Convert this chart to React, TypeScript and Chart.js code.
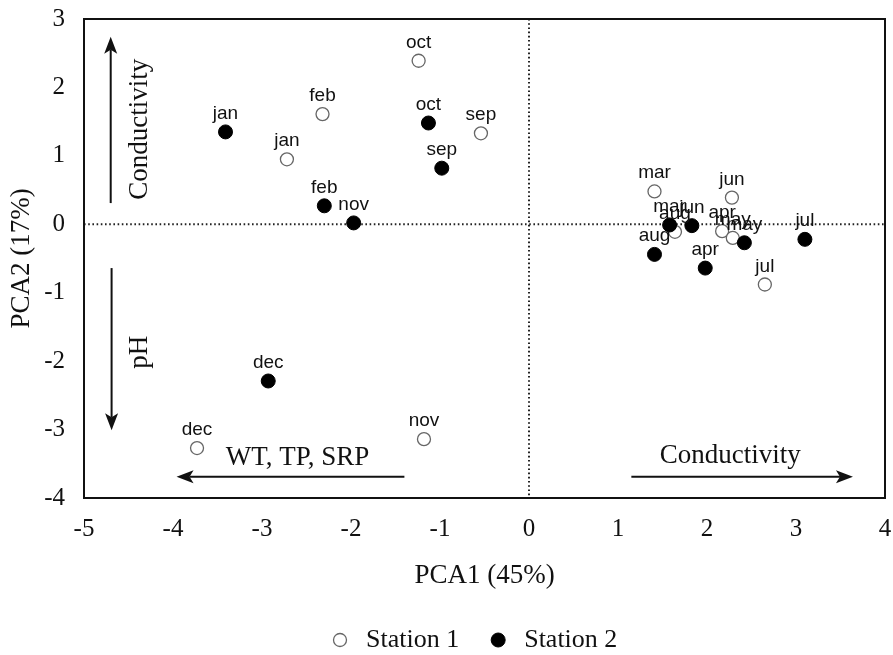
import React, { useEffect, useRef } from 'react';
import { Chart, registerables } from 'chart.js';

Chart.register(...registerables);

// ---- data ----
const MONTHS = ['jan', 'feb', 'mar', 'apr', 'may', 'jun', 'jul', 'aug', 'sep', 'oct', 'nov', 'dec'];
const STATION1_PCA1 = [-2.72, -2.32, 1.41, 2.17, 2.29, 2.28, 2.65, 1.64, -0.54, -1.24, -1.18, -3.73];
const STATION1_PCA2 = [0.95, 1.61, 0.48, -0.1, -0.2, 0.39, -0.88, -0.11, 1.33, 2.39, -3.14, -3.27];
const STATION2_PCA1 = [-3.41, -2.3, 1.58, 1.98, 2.42, 1.83, 3.1, 1.41, -0.98, -1.13, -1.97, -2.93];
const STATION2_PCA2 = [1.35, 0.27, -0.01, -0.64, -0.27, -0.02, -0.22, -0.44, 0.82, 1.48, 0.02, -2.29];
const SERIES_NAMES = ['Station 1', 'Station 2'];
const X_TITLE = 'PCA1 (45%)';
const Y_TITLE = 'PCA2 (17%)';
const X_MIN = -5;
const X_MAX = 4;
const Y_MIN = -4;
const Y_MAX = 3;

// annotation arrows (data coordinates)
const ARROWS = [
  { from: [-4.7, 0.31], to: [-4.7, 2.74] },
  { from: [-4.69, -0.64], to: [-4.69, -3.01] },
  { from: [-1.4, -3.69], to: [-3.96, -3.69] },
  { from: [1.15, -3.69], to: [3.64, -3.69] },
];
const ARROW_TEXTS = [
  { text: 'Conductivity', at: [-4.29, 1.39], vertical: true },
  { text: 'pH', at: [-4.29, -1.87], vertical: true },
  { text: 'WT, TP, SRP', at: [-2.6, -3.52], vertical: false },
  { text: 'Conductivity', at: [2.26, -3.49], vertical: false },
];

const SERIF = '"Liberation Serif", "Times New Roman", serif';
const SANS = '"Liberation Sans", Arial, sans-serif';

const toPoints = (xs: number[], ys: number[]) => xs.map((v, i) => ({ x: v, y: ys[i] }));

const zeroPadding = (scale: any) => {
  scale.paddingTop = 0;
  scale.paddingBottom = 0;
  scale.paddingLeft = 0;
  scale.paddingRight = 0;
};

const overlayPlugin = {
  id: 'overlay',
  beforeDatasetsDraw(chart: any) {
    const { ctx, chartArea: a, scales } = chart;
    const xs = scales.x;
    const ys = scales.y;
    ctx.save();
    // dotted zero lines
    ctx.strokeStyle = '#222';
    ctx.lineWidth = 2;
    ctx.setLineDash([1.6, 2.6]);
    const x0 = xs.getPixelForValue(0);
    const y0 = ys.getPixelForValue(0);
    ctx.beginPath();
    ctx.moveTo(a.left, y0);
    ctx.lineTo(a.right, y0);
    ctx.moveTo(x0, a.top);
    ctx.lineTo(x0, a.bottom);
    ctx.stroke();
    ctx.setLineDash([]);

    // arrows
    ctx.strokeStyle = '#111';
    ctx.fillStyle = '#111';
    ctx.lineWidth = 2;
    ARROWS.forEach((ar) => {
      const x1 = xs.getPixelForValue(ar.from[0]);
      const y1 = ys.getPixelForValue(ar.from[1]);
      const x2 = xs.getPixelForValue(ar.to[0]);
      const y2 = ys.getPixelForValue(ar.to[1]);
      const ang = Math.atan2(y2 - y1, x2 - x1);
      const headLen = 17;
      const headW = 6.5;
      const bx = x2 - Math.cos(ang) * headLen;
      const by = y2 - Math.sin(ang) * headLen;
      ctx.beginPath();
      ctx.moveTo(x1, y1);
      ctx.lineTo(bx + Math.cos(ang) * 4, by + Math.sin(ang) * 4);
      ctx.stroke();
      const nx = -Math.sin(ang);
      const ny = Math.cos(ang);
      ctx.beginPath();
      ctx.moveTo(x2, y2);
      ctx.lineTo(bx + nx * headW, by + ny * headW);
      ctx.lineTo(bx + Math.cos(ang) * 4, by + Math.sin(ang) * 4);
      ctx.lineTo(bx - nx * headW, by - ny * headW);
      ctx.closePath();
      ctx.fill();
    });

    // arrow texts
    ctx.font = `27px ${SERIF}`;
    ctx.textAlign = 'center';
    ctx.textBaseline = 'alphabetic';
    ARROW_TEXTS.forEach((t) => {
      const px = xs.getPixelForValue(t.at[0]);
      const py = ys.getPixelForValue(t.at[1]);
      ctx.save();
      ctx.translate(px, py);
      if (t.vertical) ctx.rotate(-Math.PI / 2);
      ctx.fillText(t.text, 0, 0);
      ctx.restore();
    });

    // frame
    ctx.strokeStyle = '#111';
    ctx.lineWidth = 2;
    ctx.strokeRect(a.left, a.top, a.right - a.left, a.bottom - a.top);
    ctx.restore();
  },
  afterDatasetsDraw(chart: any) {
    const { ctx } = chart;
    ctx.save();
    ctx.font = `19px ${SANS}`;
    ctx.fillStyle = '#111';
    ctx.textAlign = 'center';
    ctx.textBaseline = 'alphabetic';
    chart.data.datasets.forEach((ds: any, di: number) => {
      const meta = chart.getDatasetMeta(di);
      meta.data.forEach((el: any, i: number) => {
        ctx.fillText(MONTHS[i], el.x, el.y - 13);
      });
    });
    ctx.restore();
  },
  afterDraw(chart: any) {
    const { ctx } = chart;
    ctx.save();
    ctx.font = `26px ${SERIF}`;
    ctx.fillStyle = '#111';
    ctx.textAlign = 'left';
    ctx.textBaseline = 'middle';
    const ly = 640;
    let cx = 340;
    chart.data.datasets.forEach((ds: any) => {
      ctx.beginPath();
      ctx.arc(cx, ly, ds.pointRadius, 0, Math.PI * 2);
      ctx.fillStyle = ds.pointBackgroundColor;
      ctx.fill();
      ctx.lineWidth = ds.pointBorderWidth;
      ctx.strokeStyle = ds.pointBorderColor;
      ctx.stroke();
      ctx.fillStyle = '#111';
      const tx = cx + 26;
      ctx.fillText(ds.label, tx, ly);
      cx = tx + ctx.measureText(ds.label).width + 39;
    });
    ctx.restore();
  },
};

export default function App() {
  const canvasRef = useRef<HTMLCanvasElement | null>(null);

  useEffect(() => {
    const canvas = canvasRef.current;
    if (!canvas) return;
    const chart = new Chart(canvas, {
      type: 'scatter',
      data: {
        datasets: [
          {
            label: SERIES_NAMES[0],
            data: toPoints(STATION1_PCA1, STATION1_PCA2),
            pointRadius: 6.5,
            pointHoverRadius: 6.5,
            pointBackgroundColor: '#ffffff',
            pointBorderColor: '#666666',
            pointBorderWidth: 1.3,
            order: 2,
          },
          {
            label: SERIES_NAMES[1],
            data: toPoints(STATION2_PCA1, STATION2_PCA2),
            pointRadius: 7,
            pointHoverRadius: 7,
            pointBackgroundColor: '#000000',
            pointBorderColor: '#000000',
            pointBorderWidth: 1,
            order: 1,
          },
        ] as any,
      },
      options: {
        animation: false,
        responsive: false,
        devicePixelRatio: 1,
        layout: { padding: { left: 0, right: 6, top: 19, bottom: 0 } },
        plugins: {
          legend: { display: false },
          tooltip: { enabled: false },
        },
        scales: {
          x: {
            type: 'linear',
            min: X_MIN,
            max: X_MAX,
            grid: { display: false },
            border: { display: false },
            ticks: {
              stepSize: 1,
              padding: 8,
              color: '#111',
              font: { family: SERIF, size: 25 },
            },
            title: {
              display: true,
              text: X_TITLE,
              color: '#111',
              font: { family: SERIF, size: 27 },
              padding: { top: 0, bottom: 63 },
            },
            afterFit: (scale: any) => {
              scale.height = 157;
              zeroPadding(scale);
            },
          },
          y: {
            type: 'linear',
            min: Y_MIN,
            max: Y_MAX,
            grid: { display: false },
            border: { display: false },
            ticks: {
              stepSize: 1,
              padding: 11,
              color: '#111',
              font: { family: SERIF, size: 25 },
            },
            title: {
              display: true,
              text: Y_TITLE,
              color: '#111',
              font: { family: SERIF, size: 27 },
              padding: { top: 6, bottom: 0 },
            },
            afterFit: (scale: any) => {
              scale.width = 84;
              zeroPadding(scale);
            },
          },
        },
      } as any,
      plugins: [overlayPlugin],
    });
    return () => chart.destroy();
  }, []);

  return (
    <div style={{ position: 'absolute', left: 0, top: 0, width: 893, height: 655, background: '#fff' }}>
      <canvas ref={canvasRef} width={893} height={655} style={{ display: 'block' }} />
    </div>
  );
}
